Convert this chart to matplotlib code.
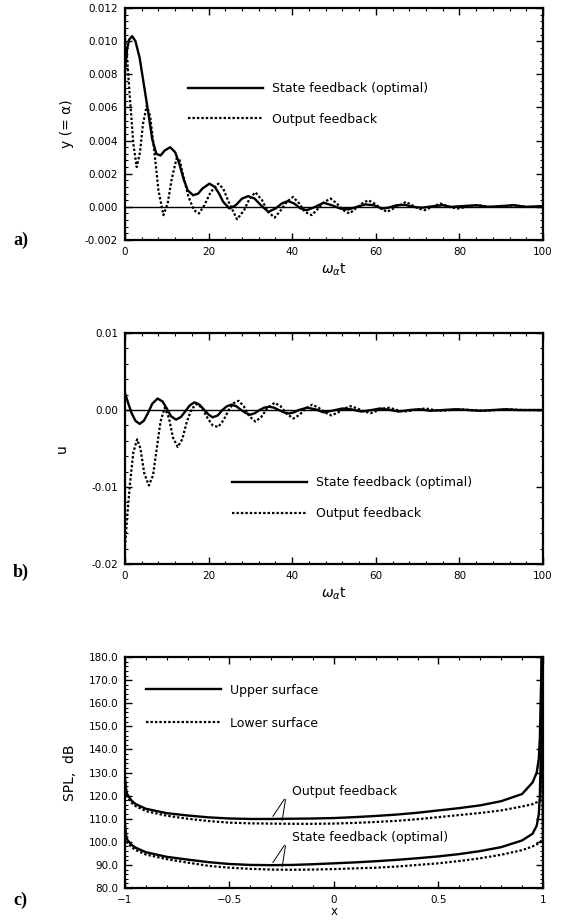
import numpy as np
import matplotlib
matplotlib.use("Agg")
import matplotlib.pyplot as plt
from matplotlib.ticker import MultipleLocator, FormatStrFormatter

plt.rcParams['font.family'] = ['DejaVu Sans']
plt.rcParams['mathtext.fontset'] = 'dejavusans'

# ---- panel a: y (= alpha) vs omega_alpha t ----
t_a_state = [0, 0.5, 1, 1.7, 2.5, 3.5, 4.5, 5.5, 6.5, 7.5, 8.5, 9.5, 10.8, 12, 13,
             14, 15, 16.3, 17.5, 18.5, 20.2, 21.5, 22.5, 23.5, 25, 26.5, 28, 29.5,
             31, 32.5, 34.3, 36, 37.5, 39, 40.5, 42, 43.5, 45.5, 47.5, 49.5, 51.5,
             53.5, 55.5, 57.5, 59.5, 61.5, 63, 65, 67, 69, 71, 74, 76, 78, 81, 84,
             87, 90, 93, 96, 100]
y_a_state = [0.0082, 0.0095, 0.0101, 0.0103, 0.0100, 0.0090, 0.0074, 0.0058, 0.0041,
             0.0032, 0.0031, 0.0034, 0.0036, 0.0033, 0.0026, 0.0017, 0.0010, 0.0007,
             0.0008, 0.0011, 0.0014, 0.0012, 0.0008, 0.0003, -0.0001, 0.0001, 0.0005,
             0.00065, 0.0005, 0.0001, -0.0003, -0.0001, 0.0002, 0.00035, 0.0002,
             -0.0001, -0.0002, 0.0, 0.00025, 0.0001, -0.0001, -0.00015, 0.0, 0.00015,
             0.0001, -0.0001, -0.00005, 0.0001, 0.00012, 0.0, -0.00005, 0.00005,
             0.0001, 0.0, 0.00005, 0.0001, 0.0, 0.00005, 0.0001, 0.0, 0.00005]

t_a_output = [0, 0.5, 1.2, 2, 2.8, 3.6, 4.3, 5.2, 6, 7, 8, 9.2, 10.2, 11.2, 12.3, 13,
              14, 15.2, 16.5, 17.7, 19, 20.5, 22.3, 23.5, 24.8, 26.8, 28.5, 29.8,
              31.2, 32.8, 34.2, 35.8, 37.3, 38.7, 40.2, 41.7, 43, 44.7, 46.2, 47.7,
              49.2, 50.7, 52.2, 53.7, 55.2, 56.7, 58.2, 59.7, 61.2, 62.7, 64.2, 65.7,
              67.2, 68.7, 70.2, 71.7, 73.5, 75.5, 77.5, 79.5, 82, 84.5, 87, 90, 93,
              96, 100]
y_a_output = [0.0102, 0.0090, 0.0065, 0.0038, 0.0024, 0.0033, 0.0050, 0.0061, 0.0055,
              0.0034, 0.0010, -0.0005, 0.0002, 0.0017, 0.0029, 0.0029, 0.0018, 0.0006,
              -0.0002, -0.0004, 0.0001, 0.0009, 0.0014, 0.0011, 0.0003, -0.00075,
              -0.0002, 0.0005, 0.00088, 0.0004, -0.0003, -0.00065, -0.0002, 0.0003,
              0.0006, 0.0002, -0.0003, -0.0005, -0.0001, 0.0003, 0.0005, 0.0002,
              -0.0002, -0.0004, -0.0001, 0.0002, 0.0004, 0.0002, -0.0001, -0.0003,
              -0.0001, 0.0001, 0.0003, 0.0001, -0.0001, -0.0002, 0.0, 0.0002, 0.0,
              -0.0001, 0.0, 0.0001, 0.0, 0.0, 0.0001, 0.0, 0.0]

# ---- panel b: u vs omega_alpha t ----
t_b_state = [0, 0.7, 1.5, 2.5, 3.5, 4.5, 5.5, 6.5, 7.8, 9, 10, 11, 12.2, 13.4, 14.5,
             15.5, 16.6, 17.8, 19, 20, 21, 22.2, 23.3, 24.4, 25.5, 26.6, 27.8, 28.9,
             30, 31.1, 32.2, 33.3, 34.5, 35.7, 36.8, 38, 39.2, 40.4, 41.6, 43.5,
             45.5, 47.5, 49.5, 52, 54, 56.5, 59, 61, 63.5, 65.5, 68, 70.5, 73, 76,
             79, 82, 85, 88, 91, 94, 97, 100]
u_b_state = [0.0022, 0.0010, -0.0003, -0.0014, -0.0018, -0.0014, -0.0004, 0.0008,
             0.0015, 0.0011, 0.0002, -0.0008, -0.00125, -0.0009, -0.0001, 0.0006,
             0.0010, 0.0007, 0.0, -0.0006, -0.00095, -0.0007, 0.0, 0.0005, 0.0007,
             0.0005, 0.0, -0.0004, -0.0006, -0.0004, 0.0, 0.0003, 0.00043, 0.0003,
             0.0, -0.0003, -0.00045, -0.0003, 0.0, 0.0003, 0.0001, -0.0003, -0.0001,
             0.0002, 0.0001, -0.0002, 0.0, 0.0002, 0.0, -0.0002, 0.0, 0.0001,
             -0.0001, 0.0, 0.0001, 0.0, -0.0001, 0.0, 0.0001, 0.0, 0.0, 0.0]

t_b_output = [0, 0.5, 1.2, 2, 2.9, 3.7, 4.6, 5.7, 6.7, 7.6, 8.5, 9.5, 10.5, 11.5, 12.6,
              13.7, 14.8, 16, 17.3, 18.5, 19.8, 21, 22.3, 23.6, 24.8, 26, 27.2, 28.4,
              29.7, 31.2, 32.6, 34, 35.8, 37.2, 38.7, 40.3, 41.8, 43.2, 44.8, 46.3,
              47.8, 49.4, 51, 52.5, 54, 55.6, 57.2, 58.8, 60.3, 61.8, 63.3, 65, 66.7,
              68.3, 70, 72, 74, 76, 78, 80, 83, 86, 89, 92, 95, 100]
u_b_output = [-0.0178, -0.0140, -0.0095, -0.0055, -0.0038, -0.0050, -0.0082, -0.0098,
              -0.0085, -0.0050, -0.0015, 0.0003, -0.0010, -0.0036, -0.0048, -0.0038,
              -0.0015, 0.0002, 0.0008, 0.0002, -0.0011, -0.0020, -0.0022, -0.0013,
              0.0, 0.0009, 0.0012, 0.0005, -0.0008, -0.0015, -0.0009, 0.0002,
              0.00095, 0.0005, -0.0005, -0.0011, -0.0006, 0.0002, 0.0007, 0.0003,
              -0.0003, -0.0007, -0.0003, 0.0002, 0.0005, 0.0002, -0.0002, -0.0004,
              -0.0001, 0.0002, 0.0003, 0.0, -0.0002, -0.0001, 0.0001, 0.0002, 0.0,
              -0.0001, 0.0, 0.0001, 0.0, -0.0001, 0.0, 0.0001, 0.0, 0.0]

# ---- panel c: SPL vs x ----
x_c = [-1.0, -0.995, -0.99, -0.97, -0.95, -0.9, -0.8, -0.7, -0.6, -0.5, -0.4, -0.3,
       -0.2, -0.1, 0.0, 0.1, 0.2, 0.3, 0.4, 0.5, 0.6, 0.7, 0.8, 0.9, 0.95, 0.97,
       0.98, 0.985, 0.99, 0.995, 1.0]
spl_out_upper = [128, 123, 120.7, 118, 116.4, 114.3, 112.4, 111.4, 110.6, 110.1, 109.9,
                 109.9, 110.0, 110.1, 110.3, 110.7, 111.2, 111.8, 112.6, 113.6, 114.6,
                 115.8, 117.6, 120.7, 125.7, 130, 136, 145, 165, 180, 118]
spl_out_lower = [126, 122, 119.5, 117, 115.5, 113.3, 111.3, 110.0, 109.0, 108.3, 108.0,
                 107.9, 107.8, 107.8, 107.9, 108.2, 108.6, 109.1, 109.8, 110.7, 111.6,
                 112.5, 113.6, 115.3, 116.3, 117.1, 117.5, 117.8, 118.0, 118.1, 118.1]
spl_state_upper = [108, 103, 101.0, 98.8, 97.5, 95.5, 93.5, 92.3, 91.2, 90.4, 90.0,
                   89.9, 90.0, 90.3, 90.7, 91.1, 91.6, 92.2, 92.9, 93.7, 94.7, 96.0,
                   97.7, 100.6, 103.5, 107, 112, 120, 140, 180, 100]
spl_state_lower = [106, 101, 99.8, 97.8, 96.5, 94.5, 92.5, 91.0, 89.6, 88.8, 88.3,
                   88.0, 87.9, 88.0, 88.2, 88.5, 88.8, 89.3, 90.0, 90.7, 91.7, 92.9,
                   94.4, 96.4, 98.0, 98.9, 99.5, 99.9, 100.3, 100.7, 101.0]

legend_state = "State feedback (optimal)"
legend_output = "Output feedback"

dots = (0, (1.1, 0.9))
tick_fs = 7.5
legend_fs = 9


def style_axes(ax):
    for sp in ax.spines.values():
        sp.set_linewidth(1.6)
    ax.tick_params(which='both', direction='in', top=True, right=True,
                   labelsize=tick_fs, pad=5)
    ax.tick_params(which='major', length=5, width=1.0)
    ax.tick_params(which='minor', length=2.5, width=0.8)


fig = plt.figure(figsize=(5.61, 9.21), dpi=100)
ax_a = fig.add_axes([0.2228, 0.7394, 0.7451, 0.2519])
ax_b = fig.add_axes([0.2228, 0.3876, 0.7451, 0.2508])
ax_c = fig.add_axes([0.2228, 0.0358, 0.7451, 0.2508])

# panel a
ax_a.axhline(0, color='black', lw=1.0)
ax_a.plot(t_a_state, y_a_state, color='black', lw=1.7, label=legend_state)
ax_a.plot(t_a_output, y_a_output, color='black', lw=1.6, linestyle=dots,
          label=legend_output)
ax_a.set_xlim(0, 100)
ax_a.set_ylim(-0.002, 0.012)
ax_a.xaxis.set_major_locator(MultipleLocator(20))
ax_a.xaxis.set_minor_locator(MultipleLocator(4))
ax_a.yaxis.set_major_locator(MultipleLocator(0.002))
ax_a.yaxis.set_minor_locator(MultipleLocator(0.0004))
ax_a.yaxis.set_major_formatter(FormatStrFormatter('%.3f'))
ax_a.set_ylabel("y (= α)", fontsize=10, labelpad=8)
ax_a.set_xlabel(r"$\omega_{\alpha}$t", fontsize=10, labelpad=3)
style_axes(ax_a)
ax_a.legend(loc='center left', bbox_to_anchor=(0.151, 0.587), frameon=False,
            fontsize=legend_fs, handlelength=6.0, handletextpad=0.7,
            labelspacing=1.4, borderpad=0, borderaxespad=0)

# panel b
ax_b.axhline(0, color='black', lw=1.0)
ax_b.plot(t_b_state, u_b_state, color='black', lw=1.7, label=legend_state)
ax_b.plot(t_b_output, u_b_output, color='black', lw=1.6, linestyle=dots,
          label=legend_output)
ax_b.set_xlim(0, 100)
ax_b.set_ylim(-0.02, 0.01)
ax_b.xaxis.set_major_locator(MultipleLocator(20))
ax_b.xaxis.set_minor_locator(MultipleLocator(4))
ax_b.yaxis.set_major_locator(MultipleLocator(0.01))
ax_b.yaxis.set_minor_locator(MultipleLocator(0.002))
ax_b.yaxis.set_major_formatter(FormatStrFormatter('%.2f'))
ax_b.set_ylabel("u", fontsize=10, labelpad=16)
ax_b.set_xlabel(r"$\omega_{\alpha}$t", fontsize=10, labelpad=3)
style_axes(ax_b)
ax_b.legend(loc='center left', bbox_to_anchor=(0.257, 0.285), frameon=False,
            fontsize=legend_fs, handlelength=6.0, handletextpad=0.7,
            labelspacing=1.4, borderpad=0, borderaxespad=0)

# panel c
ax_c.plot(x_c, spl_out_upper, color='black', lw=1.7, label="Upper surface")
ax_c.plot(x_c, spl_out_lower, color='black', lw=1.6, linestyle=dots,
          label="Lower surface")
ax_c.plot(x_c, spl_state_upper, color='black', lw=1.7)
ax_c.plot(x_c, spl_state_lower, color='black', lw=1.6, linestyle=dots)
ax_c.set_xlim(-1, 1)
ax_c.set_ylim(80, 180)
ax_c.xaxis.set_major_locator(MultipleLocator(0.5))
ax_c.xaxis.set_minor_locator(MultipleLocator(0.1))
ax_c.yaxis.set_major_locator(MultipleLocator(10))
ax_c.yaxis.set_minor_locator(MultipleLocator(2))
ax_c.yaxis.set_major_formatter(FormatStrFormatter('%.1f'))
ax_c.xaxis.set_major_formatter(plt.FuncFormatter(
    lambda v, p: ('%g' % v).replace('-', '\u2212')))
ax_c.set_ylabel("SPL,  dB", fontsize=10, labelpad=8)
ax_c.set_xlabel("x", fontsize=8.5, labelpad=0)
style_axes(ax_c)
ax_c.legend(loc='center left', bbox_to_anchor=(0.051, 0.785), frameon=False,
            fontsize=legend_fs, handlelength=6.0, handletextpad=0.7,
            labelspacing=1.6, borderpad=0, borderaxespad=0)

# leader annotations
ax_c.text(-0.2, 121.7, "Output feedback", fontsize=legend_fs, va='center')
ax_c.text(-0.2, 101.9, "State feedback (optimal)", fontsize=legend_fs, va='center')
for ytxt, ysol, ydot in [(119.5, 110.0, 108.0), (99.5, 90.0, 88.0)]:
    ax_c.annotate("", xy=(-0.30, ysol), xytext=(-0.23, ytxt),
                  arrowprops=dict(arrowstyle='-', lw=0.7, color='black'))
    ax_c.annotate("", xy=(-0.25, ydot), xytext=(-0.23, ytxt),
                  arrowprops=dict(arrowstyle='-', lw=0.7, color='black'))

# panel tags
for ylab, tag in [(240, "a)"), (572, "b)"), (900, "c)")]:
    fig.text(13 / 561, 1 - ylab / 921, tag, fontsize=13, fontweight='bold',
             family='Liberation Serif', va='center', ha='left')

fig.savefig("out.png", dpi=100)
